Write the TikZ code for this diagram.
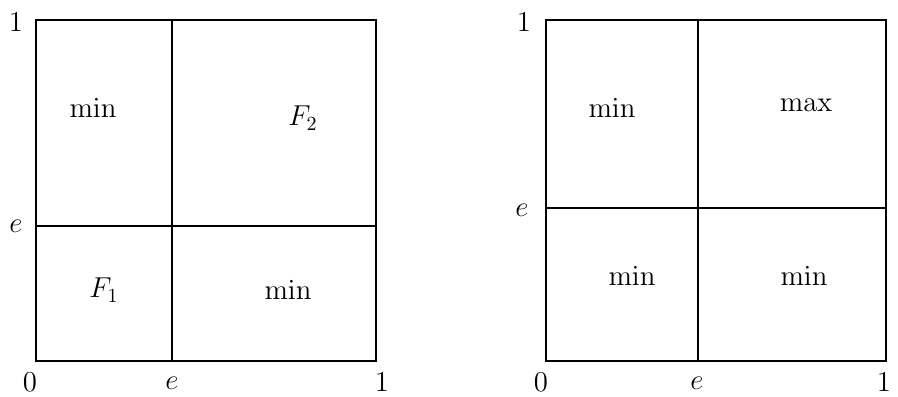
\documentclass[tikz,border=0pt]{standalone}
\usepackage{amsmath, amssymb}
\usepackage{tikz}
\usetikzlibrary{calc, positioning}

\begin{document}
\begin{tikzpicture}[x=0.5pt, y=-0.5pt, font=\Large, line width=0.6pt]
    \useasboundingbox (0,0) rectangle (898,396);
    % Hình vuông bên trái
    \draw (36,20) rectangle (376,361);
    \draw[line width=1pt] (172,20) -- (172,361);
    \draw[line width=1pt] (36,226) -- (376,226);
    \node (ltop) at (16,22) {$1$};
    \node (le) at (16,226) {$e$};
    \node (lzero) at (30,382) {$0$};
    \node (lex) at (172,383) {$e$};
    \node (lone) at (382,382) {$1$};
    \node (lmina) at (93,108) {$\min$};
    \node (lftwo) at (303,118) {$F_2$};
    \node (lfone) at (104,290) {$F_1$};
    \node (lminb) at (288,290) {$\min$};
    
    % Hình vuông bên phải
    \draw (546,20) rectangle (886,361);
    \draw (698,20) -- (698,361);
    \draw (546,208) -- (886,208);
    \node (rtop) at (524,22) {$1$};
    \node (re) at (522,210) {$e$};
    \node (rzero) at (541,382) {$0$};
    \node (rex) at (697,383) {$e$};
    \node (rone) at (884,382) {$1$};
    \node (rmina) at (612,108) {$\min$};
    \node (rmax) at (806,105) {$\max$};
    \node (rminb) at (632,276) {$\min$};
    \node (rminc) at (804,276) {$\min$};
\end{tikzpicture}
\end{document}
